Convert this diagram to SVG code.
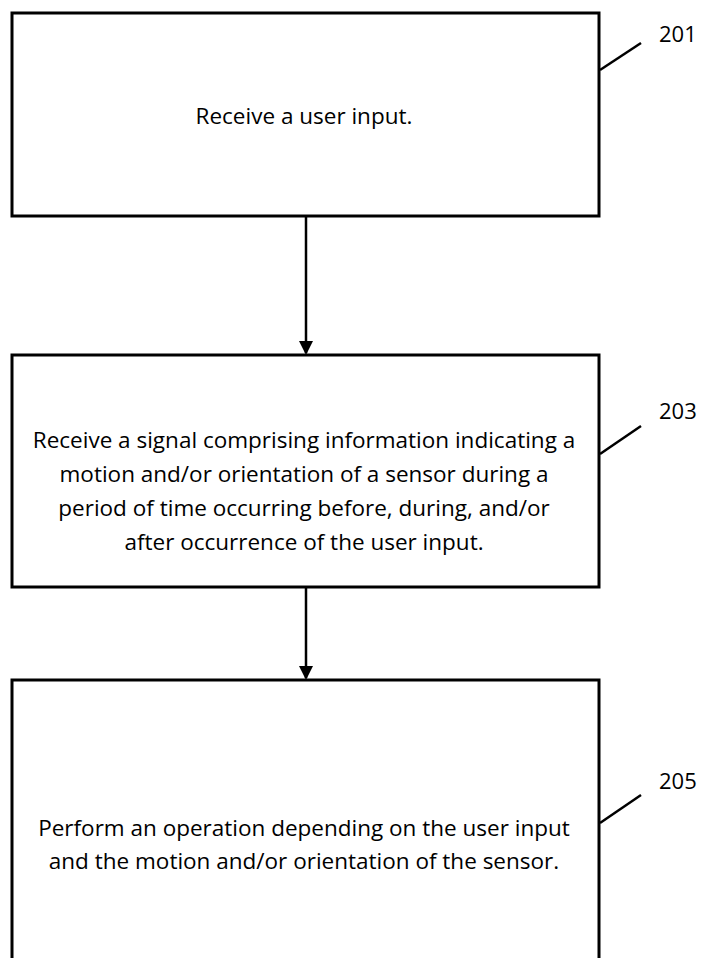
<svg xmlns="http://www.w3.org/2000/svg" width="703" height="958" viewBox="0 0 703 958">
<style>
.box{fill:#fff;stroke:#000;stroke-width:3}
.lead{stroke:#000;stroke-width:2.5;fill:none}
.t{font-family:"Open Sans","Liberation Sans",Arial,sans-serif;font-size:22.5px;fill:#000;text-anchor:middle}
.ref{font-family:"Open Sans","Liberation Sans",Arial,sans-serif;font-size:22px;fill:#000}
.conn{stroke:#000;stroke-width:2.5;fill:none}
</style>
<defs>
<marker id="arr" markerWidth="14" markerHeight="14" refX="12" refY="7" orient="auto" markerUnits="userSpaceOnUse">
<path d="M0,0 L14,7 L0,14 Z" fill="#000"/>
</marker>
</defs>
<rect width="703" height="958" fill="#fff"/>
<g id="connectors">
<line class="conn" x1="306" y1="216" x2="306" y2="353" marker-end="url(#arr)"/>
<line class="conn" x1="306" y1="587" x2="306" y2="678" marker-end="url(#arr)"/>
</g>
<g id="n201">
<rect class="box" x="12" y="13" width="587" height="203"/>
<text class="t" x="304" y="124">Receive a user input.</text>
<path class="lead" d="M600,70 L641,43"/>
<text class="ref" x="659" y="42">201</text>
</g>
<g id="n203">
<rect class="box" x="12" y="355" width="587" height="232"/>
<text class="t" x="304" y="448">Receive a signal comprising information indicating a</text>
<text class="t" x="304" y="482">motion and/or orientation of a sensor during a</text>
<text class="t" x="304" y="516">period of time occurring before, during, and/or</text>
<text class="t" x="304" y="550">after occurrence of the user input.</text>
<path class="lead" d="M600,454 L641,426"/>
<text class="ref" x="659" y="419">203</text>
</g>
<g id="n205">
<rect class="box" x="12" y="680" width="587" height="300"/>
<text class="t" x="304" y="836">Perform an operation depending on the user input</text>
<text class="t" x="304" y="869">and the motion and/or orientation of the sensor.</text>
<path class="lead" d="M600,823 L641,795"/>
<text class="ref" x="659" y="789">205</text>
</g>
</svg>
